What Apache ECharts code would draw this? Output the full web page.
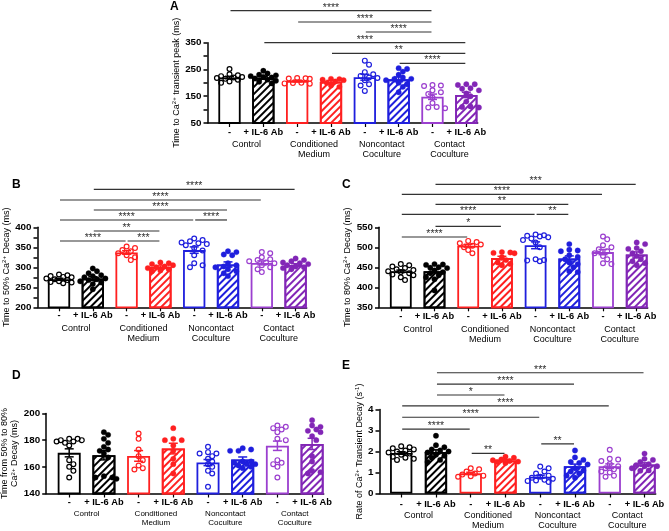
<!DOCTYPE html>
<html><head><meta charset="utf-8">
<script src="https://cdn.jsdelivr.net/npm/echarts@6/dist/echarts.min.js"></script>
<style>html,body{margin:0;padding:0;background:#fff}#c{width:669px;height:531px}</style>
</head><body><div id="c"></div>
<script>
// ---------- data ----------
const barLabels = ['-', '+ IL-6 Ab', '-', '+ IL-6 Ab', '-', '+ IL-6 Ab', '-', '+ IL-6 Ab'];
const groupLabels = ['Control', 'Conditioned\nMedium', 'Noncontact\nCoculture', 'Contact\nCoculture'];
const withAntibody = [false, true, false, true, false, true, false, true];

const A_mean = [220, 219, 207, 204, 221, 213, 148, 155];
const A_sem = [4, 5, 3, 5, 11, 9, 10, 10];
const A_points = [
  [252, 232, 228, 225, 222, 220, 218, 215, 212, 205, 200],
  [245, 235, 230, 228, 225, 222, 220, 216, 212, 208, 204, 198],
  [218, 217, 216, 215, 200, 199, 198, 197],
  [215, 214, 212, 210, 205, 200, 190, 185],
  [283, 268, 240, 232, 226, 220, 218, 210, 195, 190, 170],
  [252, 255, 242, 230, 215, 220, 215, 210, 200, 195, 185, 165],
  [192, 190, 188, 172, 165, 158, 145, 125, 110, 108, 105],
  [195, 195, 192, 180, 178, 172, 160, 150, 130, 112, 110, 108]
];
const A_sig = [[0, 6, 469.5, '****'], [2, 6, 427.3, '****'], [4, 6, 390, '****'], [1, 7, 350, '****'], [3, 7, 310.4, '**'], [5, 7, 273, '****']];

const B_mean = [270, 272, 337, 301, 343, 307, 311, 306];
const B_sem = [2.5, 4.5, 4.5, 2.5, 8, 6.5, 5, 3];
const B_points = [
  [282, 280, 278, 276, 275, 272, 270, 268, 265, 263, 262, 260],
  [297, 290, 285, 280, 278, 275, 272, 270, 268, 265, 262, 258, 245],
  [352, 348, 343, 340, 335, 330, 325, 318],
  [312, 310, 308, 305, 302, 300, 298, 295, 292, 290],
  [372, 368, 365, 362, 360, 358, 355, 348, 342, 330, 310, 305, 300],
  [340, 338, 332, 330, 310, 302, 305, 300, 295, 290, 285, 278],
  [338, 335, 325, 320, 318, 315, 312, 310, 305, 300, 295, 288],
  [322, 318, 315, 312, 310, 308, 305, 302, 300, 298, 295]
];
const B_sig = [[1, 7, 495, '****'], [0, 6, 468.3, '****'], [1, 5, 443.3, '****'], [0, 4, 418.3, '****'], [4, 5, 418.3, '****'], [1, 3, 390.8, '**'], [0, 2, 365.8, '****'], [2, 3, 365.8, '***']];

const C_mean = [440, 440, 504, 473, 505, 472, 488, 482];
const C_sem = [3, 4.5, 3.5, 4.5, 8.5, 6.5, 6.5, 6.5];
const C_points = [
  [458, 455, 452, 448, 445, 443, 440, 438, 435, 432, 430, 425, 418],
  [458, 457, 456, 450, 449, 448, 442, 438, 435, 430, 425, 420, 392],
  [516, 513, 510, 507, 504, 500, 493, 485],
  [488, 487, 486, 485, 475, 468, 462, 458, 455],
  [532, 530, 529, 527, 525, 522, 518, 512, 500, 470, 468, 467, 465],
  [508, 494, 492, 490, 480, 476, 470, 462, 458, 450, 440, 438],
  [527, 520, 505, 500, 495, 490, 485, 478, 470, 460, 458],
  [512, 508, 498, 496, 490, 485, 478, 470, 465, 460, 455]
];
const C_sig = [[1, 7, 657.5, '***'], [0, 6, 632.5, '****'], [1, 5, 607.5, '**'], [0, 4, 582.5, '****'], [4, 5, 582.5, '**'], [1, 3, 552.5, '*'], [0, 2, 525.8, '****']];

const D_mean = [170.5, 168.7, 168.2, 173.7, 163.2, 165.5, 175.8, 177.2];
const D_sem = [3, 3.5, 4, 4, 2.3, 1.9, 3.5, 4.2];
const D_points = [
  [181, 181, 180, 176, 180, 179, 179, 178, 165, 162, 160, 157, 152],
  [186, 184, 181, 178, 175, 173, 172, 170, 167, 153, 152, 152, 151],
  [185, 181, 173, 168, 165, 161, 159, 158],
  [189, 181, 180, 180, 176, 172, 166, 162, 155],
  [175, 171, 170, 170, 168, 166, 164, 162, 160, 157, 155, 145],
  [174, 172, 173, 172, 163, 164, 162, 164, 162, 161, 160, 159],
  [191, 190, 189, 188, 186, 181, 180, 165, 163, 162, 160, 152],
  [195, 191, 190, 188, 187, 186, 183, 180, 168, 164, 157, 156, 155]
];
const D_sig = [];

const E_mean = [1.93, 1.98, 0.96, 1.57, 0.80, 1.30, 1.30, 1.38];
const E_sem = [0.06, 0.10, 0.05, 0.04, 0.07, 0.10, 0.11, 0.08];
const E_points = [
  [2.25, 2.2, 2.15, 2.1, 2.05, 2.0, 1.95, 1.9, 1.85, 1.75, 1.7, 1.65, 1.6],
  [2.75, 2.3, 2.2, 2.1, 2.05, 2.0, 1.95, 1.85, 1.8, 1.7, 1.6, 1.5],
  [1.2, 1.15, 1.05, 0.95, 0.9, 0.85, 0.82, 0.8],
  [1.75, 1.7, 1.62, 1.58, 1.55, 1.52, 1.5, 1.45],
  [1.28, 1.2, 1.05, 0.95, 0.85, 0.8, 0.75, 0.7, 0.65, 0.62, 0.6, 0.55],
  [2.05, 1.72, 1.6, 1.5, 1.45, 1.38, 1.2, 1.1, 1.05, 0.95, 0.85, 0.75],
  [2.08, 1.65, 1.62, 1.55, 1.4, 1.3, 1.2, 1.15, 1.05, 1.0, 0.85, 0.8],
  [1.9, 1.6, 1.5, 1.65, 1.3, 1.4, 1.35, 1.3, 1.2, 1.1, 1.08]
];
const E_sig = [[1, 7, 5.75, '***'], [1, 5, 5.21, '****'], [1, 3, 4.69, '*'], [0, 6, 4.17, '****'], [0, 4, 3.63, '****'], [0, 2, 3.07, '****'], [4, 5, 2.36, '**'], [2, 3, 1.91, '**']];

const yNames = {
  A: 'Time to Ca{s|2+} transient peak (ms)',
  B: 'Time to 50% Ca{s|2+} Decay (ms)',
  C: 'Time to 80% Ca{s|2+} Decay (ms)',
  D: 'Time from 50% to 80%\nCa{s|2+} Decay (ms)',
  E: 'Rate of Ca{s|2+} Transient Decay (s{s|-1})'
};
const yScales = {
  A: [50, 350, 50, 100],
  B: [200, 400, 25, 50],
  C: [350, 550, 50, 50],
  D: [140, 200, 20, 20],
  E: [0, 4, 1, 1]
};

// ---------- style / layout ----------
const FONT = "'Liberation Sans', Arial, Helvetica, sans-serif";
const strokeCols = ['#000000', '#000000', '#ff2020', '#ff2020', '#1f1fdd', '#1f1fdd', '#9b3fcf', '#8226b6'];
const layouts = {
  A: {axisX: 207.5, top: 42.7, bottom: 123, c0: 229.5, step: 33.83, right: 477.7, barW: 22.3, nameGap: 22, letter: [170, 1], lblM: 5, grpM: 17, grpF: 9, grpLH: 10},
  B: {axisX: 37.5, top: 227.3, bottom: 307.3, c0: 59, step: 33.8, right: 306.7, barW: 22.3, nameGap: 23, letter: [12, 179], lblM: 4, grpM: 16, grpF: 9, grpLH: 10},
  C: {axisX: 379, top: 227.3, bottom: 307.3, c0: 400.8, step: 33.7, right: 647.7, barW: 21.8, nameGap: 24, letter: [342, 179], lblM: 5, grpM: 17, grpF: 9, grpLH: 10},
  D: {axisX: 46.2, top: 413.5, bottom: 493.5, c0: 69.2, step: 34.7, right: 323.7, barW: 23, nameGap: 26, letter: [12, 370], lblM: 4.5, grpM: 15.5, grpF: 8, grpLH: 9},
  E: {axisX: 379.5, top: 409.5, bottom: 493.5, c0: 401.2, step: 34.76, right: 655.7, barW: 22.3, nameGap: 14, letter: [342, 360], lblM: 6, grpM: 17.5, grpF: 9, grpLH: 10}
};
const panelData = {
  A: [A_mean, A_sem, A_points, A_sig],
  B: [B_mean, B_sem, B_points, B_sig],
  C: [C_mean, C_sem, C_points, C_sig],
  D: [D_mean, D_sem, D_points, D_sig],
  E: [E_mean, E_sem, E_points, E_sig]
};
const catIdx = [0, 1, 2, 3, 4, 5, 6, 7];
const groupPos = [0.5, 2.5, 4.5, 6.5];

function swarm(ys) {
  const order = ys.map((y, i) => i).sort((a, b) => ys[a] - ys[b]);
  const dx = new Array(ys.length).fill(0);
  const placed = [];
  const STEP = 4.2, D = 4.9, K = [0, 1, -1, 2, -2, 3, -3];
  order.forEach(i => {
    let best = 0, bestScore = -1;
    for (const k of K) {
      const x = k * STEP; let minD = Infinity;
      for (const j of placed) { const d = Math.hypot(x - dx[j], ys[i] - ys[j]); if (d < minD) minD = d; }
      if (minD >= D) { best = x; break; }
      if (minD > bestScore) { bestScore = minD; best = x; }
    }
    dx[i] = best; placed.push(i);
  });
  return dx;
}

const option = {
  animation: false, backgroundColor: '#ffffff',
  textStyle: {fontFamily: FONT},
  title: [], grid: [], xAxis: [], yAxis: [], series: []
};

Object.keys(layouts).forEach((key, k) => {
  const L = layouts[key];
  const [mean, sem, pts, sig] = panelData[key];
  const [yMin, yMax, yInt, yLab] = yScales[key];
  const xMin = -(L.c0 - L.axisX) / L.step, xMax = (L.right - L.c0) / L.step;
  option.title.push({text: key, left: L.letter[0], top: L.letter[1], padding: 0,
    textStyle: {fontSize: 12, fontWeight: 'bold', color: '#000', fontFamily: FONT}});
  option.grid.push({left: L.axisX, top: L.top, width: L.right - L.axisX, height: L.bottom - L.top, containLabel: false, outerBoundsMode: 'none'});
  option.xAxis.push({type: 'value', gridIndex: k, min: xMin, max: xMax, position: 'bottom',
    axisLine: {show: true, onZero: false, lineStyle: {color: '#000', width: 1.5}},
    axisTick: {show: true, customValues: catIdx, length: 4, lineStyle: {color: '#000', width: 1.2}},
    axisLabel: {customValues: catIdx, formatter: v => barLabels[Math.round(v)], color: '#000', fontWeight: 'bold', fontSize: 9.3, margin: L.lblM, fontFamily: FONT},
    splitLine: {show: false}});
  option.xAxis.push({type: 'value', gridIndex: k, min: xMin, max: xMax, position: 'bottom',
    axisLine: {show: false, onZero: false}, axisTick: {show: false},
    axisLabel: {customValues: groupPos, formatter: v => groupLabels[Math.round((v - 0.5) / 2)], color: '#000', fontSize: L.grpF, lineHeight: L.grpLH, margin: L.grpM, fontFamily: FONT},
    splitLine: {show: false}});
  option.yAxis.push({type: 'value', gridIndex: k, min: yMin, max: yMax, interval: yInt,
    axisLine: {show: true, onZero: false, lineStyle: {color: '#000', width: 1.5}},
    axisTick: {show: true, length: 4, lineStyle: {color: '#000', width: 1.5}},
    axisLabel: {formatter: v => (Math.abs((v - yMin) % yLab) < 1e-9 ? String(v) : ''), color: '#000', fontWeight: 'bold', fontSize: 9.8, margin: 6, fontFamily: FONT},
    splitLine: {show: false},
    name: yNames[key], nameLocation: 'middle', nameGap: L.nameGap, nameRotate: 90,
    nameTextStyle: {color: '#000', fontSize: 9, lineHeight: 10, fontFamily: FONT,
      rich: {s: {fontSize: 6, color: '#000', verticalAlign: 'top', fontFamily: FONT, lineHeight: 10}}}});
  const xi = 2 * k, yi = k;
  // bars
  option.series.push({type: 'bar', xAxisIndex: xi, yAxisIndex: yi, barWidth: L.barW, z: 2,
    data: mean.map((m, i) => ({value: [i, m], itemStyle: {
      color: '#ffffff', borderColor: strokeCols[i], borderWidth: 1.8,
      decal: withAntibody[i] ? {symbol: 'rect', symbolSize: 1, color: strokeCols[i], dashArrayX: [1, 0], dashArrayY: [1.8, 2.4], rotation: -Math.PI / 4} : null
    }}))});
  // points
  option.series.push({type: 'custom', xAxisIndex: xi, yAxisIndex: yi, z: 3,
    encode: {x: 0, y: 1},
    data: pts.flatMap((arr, c) => arr.map((v, i) => [c, v, i])),
    renderItem: (params, api) => {
      const ctx = params.context;
      const c = api.value(0), i = api.value(2);
      ctx.lay = ctx.lay || {};
      if (!ctx.lay[c]) ctx.lay[c] = swarm(pts[c].map(v => api.coord([c, v])[1]));
      const p = api.coord([c, api.value(1)]);
      const col = strokeCols[c];
      const filled = withAntibody[c];
      return {type: 'circle', shape: {cx: p[0] + ctx.lay[c][i], cy: p[1], r: filled ? 2.7 : 2.4},
        style: {fill: filled ? col : 'rgba(255,255,255,0)', stroke: col, lineWidth: filled ? 0.3 : 1.2}};
    }});
  // error bars
  option.series.push({type: 'custom', xAxisIndex: xi, yAxisIndex: yi, z: 4,
    encode: {x: 0, y: 1},
    data: mean.map((m, i) => [i, m, sem[i]]),
    renderItem: (params, api) => {
      const x = api.value(0), m = api.value(1), s = api.value(2);
      const t = api.coord([x, m + s]), b = api.coord([x, m - s]);
      const col = strokeCols[params.dataIndex], h = 4.5;
      const st = {stroke: col, lineWidth: 1.5};
      return {type: 'group', children: [
        {type: 'line', shape: {x1: t[0], y1: t[1], x2: b[0], y2: b[1]}, style: st},
        {type: 'line', shape: {x1: t[0] - h, y1: t[1], x2: t[0] + h, y2: t[1]}, style: st},
        {type: 'line', shape: {x1: b[0] - h, y1: b[1], x2: b[0] + h, y2: b[1]}, style: st}
      ]};
    }});
  // significance brackets
  if (sig.length) {
    option.series.push({type: 'custom', xAxisIndex: xi, yAxisIndex: yi, z: 5, clip: false,
      encode: {x: [0, 1], y: 2},
      data: sig.map(s => [s[0], s[1], s[2]]),
      renderItem: (params, api) => {
        const a = api.coord([api.value(0), api.value(2)]);
        const b = api.coord([api.value(1), api.value(2)]);
        const txt = sig[params.dataIndex][3];
        return {type: 'group', children: [
          {type: 'line', shape: {x1: a[0] + 1, y1: a[1], x2: b[0] - 1, y2: b[1]}, style: {stroke: '#333', lineWidth: 1.2}},
          {type: 'text', x: (a[0] + b[0]) / 2, y: a[1] - 3,
            style: {text: txt, fill: '#333', fontSize: 10.5, fontFamily: FONT, align: 'center', verticalAlign: 'middle', textAlign: 'center', textVerticalAlign: 'middle'}}
        ]};
      }});
  }
});

const chart = echarts.init(document.getElementById('c'), null, {renderer: 'canvas', width: 669, height: 531});
chart.setOption(option);
</script>
</body></html>
